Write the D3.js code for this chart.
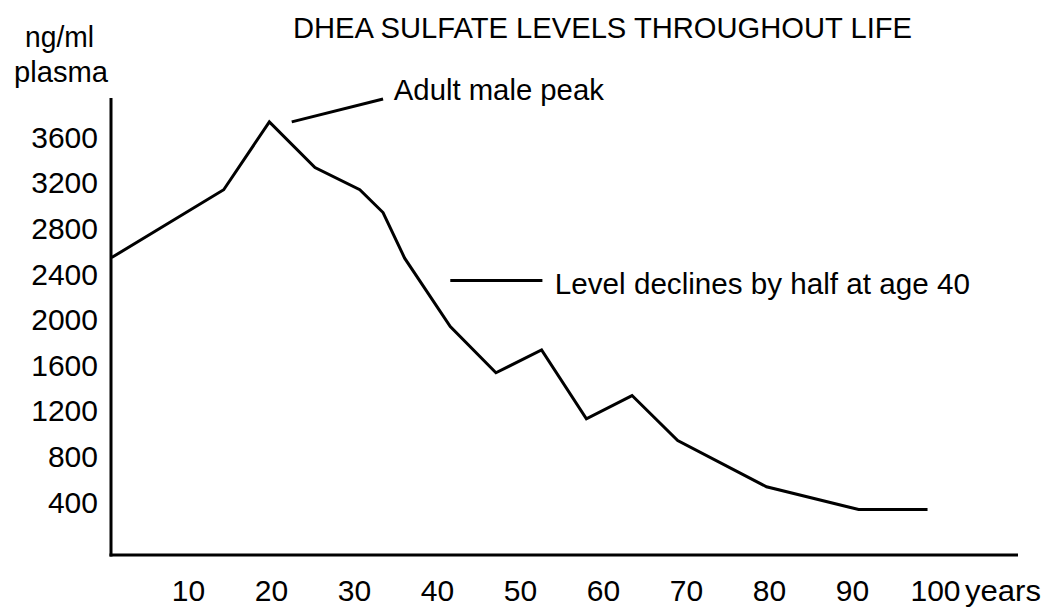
<!DOCTYPE html>
<html>
<head>
<meta charset="utf-8">
<script src="https://cdn.jsdelivr.net/npm/d3@7"></script>
<style>
  html, body { margin: 0; padding: 0; background: #fff; }
  svg { display: block; }
  text { font-family: "Liberation Sans", Arial, sans-serif; fill: #000; }
</style>
</head>
<body>
<svg id="chart" width="1048" height="608"></svg>
<script>
// ---- data ----
const ages   = [0.8, 14.3, 19.8, 25.3, 30.7, 33.5, 36.1, 41.6, 47.1, 52.6, 58.0, 63.5, 69.0, 79.7, 90.8, 99.1];
const levels = [2540, 3135, 3730, 3330, 3135, 2935, 2535, 1935, 1530, 1730, 1125, 1330, 935, 530, 330, 330];
const yTicks = [400, 800, 1200, 1600, 2000, 2400, 2800, 3200, 3600];
const xTicks = [10, 20, 30, 40, 50, 60, 70, 80, 90, 100];
const title = "DHEA SULFATE LEVELS THROUGHOUT LIFE";
const yUnitLines = ["ng/ml", "plasma"];
const xUnit = "years";
const annotations = [
  { text: "Adult male peak", line: [[22.5, 3730], [33.5, 3930]], textAt: [34.8, 3930] },
  { text: "Level declines by half at age 40", line: [[41.6, 2340], [52.7, 2340]], textAt: [54.2, 2340] }
];

// ---- layout ----
const svg = d3.select("#chart");
const x = d3.scaleLinear().domain([0, 100]).range([105, 935]);
const y = d3.scaleLinear().domain([0, 3600]).range([547.2, 136.7]);
const axisX = 111, axisY = 555, axisTop = 98, axisRight = 1018;
const FS = 30;

// title
svg.append("text")
  .attr("x", 293).attr("y", 38)
  .attr("font-size", FS)
  .attr("textLength", 619).attr("lengthAdjust", "spacingAndGlyphs")
  .text(title);

// y unit label
svg.append("text").attr("x", 25).attr("y", 47).attr("font-size", FS)
  .attr("textLength", 69).attr("lengthAdjust", "spacingAndGlyphs").text(yUnitLines[0]);
svg.append("text").attr("x", 14).attr("y", 82).attr("font-size", FS)
  .attr("textLength", 94).attr("lengthAdjust", "spacingAndGlyphs").text(yUnitLines[1]);

// axes lines
svg.append("line").attr("x1", axisX).attr("x2", axisX).attr("y1", axisTop).attr("y2", axisY + 1.5)
  .attr("stroke", "#000").attr("stroke-width", 3);
svg.append("line").attr("x1", axisX - 1.5).attr("x2", axisRight).attr("y1", axisY).attr("y2", axisY)
  .attr("stroke", "#000").attr("stroke-width", 3);

// y tick labels via d3 axis
const gy = svg.append("g").attr("transform", `translate(${axisX},0)`)
  .call(d3.axisLeft(y).tickValues(yTicks).tickSize(0).tickPadding(13).tickFormat(d3.format("d")));
gy.select(".domain").remove();
gy.selectAll("text").attr("font-size", FS).attr("font-family", "Liberation Sans, Arial, sans-serif")
  .attr("fill", "#000").attr("dy", "0.35em");

// x tick labels via d3 axis
const gx = svg.append("g").attr("transform", `translate(0,${axisY})`)
  .call(d3.axisBottom(x).tickValues(xTicks).tickSize(0).tickPadding(25).tickFormat(d3.format("d")));
gx.select(".domain").remove();
gx.selectAll("text").attr("font-size", FS).attr("font-family", "Liberation Sans, Arial, sans-serif")
  .attr("fill", "#000").attr("dy", "0.71em");

svg.append("text").attr("x", 965).attr("y", 601).attr("font-size", FS)
  .attr("textLength", 76).attr("lengthAdjust", "spacingAndGlyphs").text(xUnit);

// data line
const line = d3.line().x((d, i) => x(ages[i])).y(d => y(d));
svg.append("path").datum(levels)
  .attr("d", line)
  .attr("fill", "none").attr("stroke", "#000").attr("stroke-width", 3)
  .attr("stroke-linejoin", "miter");

// annotations
annotations.forEach(a => {
  svg.append("line")
    .attr("x1", x(a.line[0][0])).attr("y1", y(a.line[0][1]))
    .attr("x2", x(a.line[1][0])).attr("y2", y(a.line[1][1]))
    .attr("stroke", "#000").attr("stroke-width", 3);
});
svg.append("text").attr("x", x(annotations[0].textAt[0])).attr("y", y(annotations[0].textAt[1]) + 1)
  .attr("font-size", FS).attr("textLength", 210).attr("lengthAdjust", "spacingAndGlyphs")
  .text(annotations[0].text);
svg.append("text").attr("x", x(annotations[1].textAt[0])).attr("y", y(annotations[1].textAt[1]) + 14)
  .attr("font-size", FS).attr("textLength", 415).attr("lengthAdjust", "spacingAndGlyphs")
  .text(annotations[1].text);
</script>
</body>
</html>
